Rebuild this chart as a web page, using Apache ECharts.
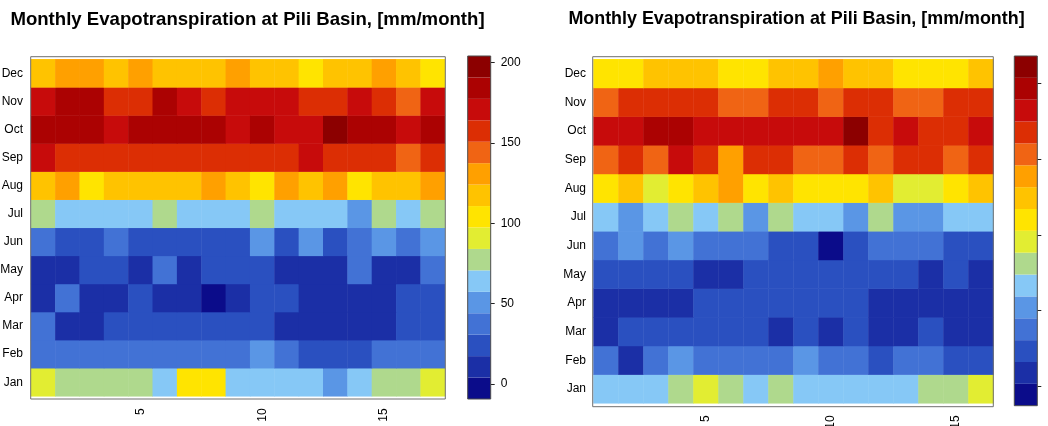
<!DOCTYPE html>
<html>
<head>
<meta charset="utf-8">
<script src="https://cdn.jsdelivr.net/npm/echarts@6/dist/echarts.min.js"></script>
<style>
  html, body { margin: 0; padding: 0; background: #ffffff; }
  #chart { width: 1048px; height: 426px; }
</style>
</head>
<body>
<div id="chart"></div>
<script>
// Month labels, bottom (Jan) to top (Dec)
const months = ['Jan', 'Feb', 'Mar', 'Apr', 'May', 'Jun', 'Jul', 'Aug', 'Sep', 'Oct', 'Nov', 'Dec'];

// Year indices along the x axis of each panel
const yearsA = ['1','2','3','4','5','6','7','8','9','10','11','12','13','14','15','16','17'];
const yearsB = ['1','2','3','4','5','6','7','8','9','10','11','12','13','14','15','16'];

// Monthly evapotranspiration [mm/month], panel A (rows Jan..Dec, columns = years)
const etA = [
  [91, 77, 77, 77, 77, 64, 104, 104, 64, 64, 64, 64, 51, 64, 77, 77, 91],
  [37, 37, 37, 37, 37, 37, 37, 37, 37, 51, 37, 24, 24, 24, 37, 37, 37],
  [37, 11, 11, 24, 24, 24, 24, 24, 24, 24, 11, 11, 11, 11, 11, 24, 24],
  [11, 37, 11, 11, 24, 11, 11, -3, 11, 24, 24, 11, 11, 11, 11, 24, 24],
  [11, 11, 24, 24, 11, 37, 11, 24, 24, 24, 11, 11, 11, 37, 11, 11, 37],
  [37, 24, 24, 37, 24, 24, 24, 24, 24, 51, 24, 51, 24, 37, 51, 37, 51],
  [77, 64, 64, 64, 64, 77, 64, 64, 64, 77, 64, 64, 64, 51, 77, 64, 77],
  [117, 131, 104, 117, 117, 117, 117, 131, 117, 104, 131, 117, 131, 104, 117, 117, 131],
  [171, 157, 157, 157, 157, 157, 157, 157, 157, 157, 157, 171, 157, 157, 157, 144, 157],
  [184, 184, 184, 171, 184, 184, 184, 184, 171, 184, 171, 171, 197, 184, 184, 171, 184],
  [171, 184, 184, 157, 157, 184, 171, 157, 171, 171, 171, 157, 157, 171, 157, 144, 171],
  [117, 131, 131, 117, 131, 117, 117, 117, 131, 117, 117, 104, 117, 117, 131, 117, 104]
];

// Monthly evapotranspiration [mm/month], panel B
const etB = [
  [67, 67, 67, 81, 95, 81, 67, 81, 67, 67, 67, 67, 67, 81, 81, 95],
  [38, 9, 38, 52, 38, 38, 38, 38, 52, 38, 38, 23, 38, 38, 23, 23],
  [9, 23, 23, 23, 23, 23, 23, 9, 23, 9, 23, 9, 9, 23, 9, 9],
  [9, 9, 9, 9, 23, 23, 23, 23, 23, 23, 23, 9, 9, 9, 9, 9],
  [23, 23, 23, 23, 9, 9, 23, 23, 23, 23, 23, 23, 23, 9, 23, 9],
  [38, 52, 38, 52, 38, 38, 38, 23, 23, -6, 23, 38, 38, 38, 23, 23],
  [67, 52, 67, 81, 67, 81, 52, 81, 67, 67, 52, 81, 52, 52, 67, 67],
  [110, 124, 95, 110, 124, 139, 110, 124, 110, 110, 110, 124, 95, 95, 110, 124],
  [153, 168, 153, 182, 168, 139, 168, 168, 153, 153, 168, 153, 168, 168, 153, 168],
  [182, 182, 196, 196, 182, 182, 182, 182, 182, 182, 211, 168, 182, 168, 168, 182],
  [153, 168, 168, 168, 168, 153, 153, 168, 168, 153, 168, 168, 153, 153, 168, 168],
  [110, 110, 124, 124, 124, 110, 110, 124, 124, 139, 124, 124, 110, 110, 110, 124]
];

// Colour-key range of each panel and the key's tick values
const scaleA = [-9.3, 204];
const scaleB = [-12.8, 218];
const keyTicks = [0, 50, 100, 150, 200];

// 16-step blue-yellow-red palette, low to high
const palette = [
  '#0b0c8a', '#1b2fa6', '#2a50c0', '#4272d5', '#5a96e5', '#86c8f6',
  '#afd98d', '#e2ed32', '#ffe400', '#ffc300', '#ffa000', '#f06414',
  '#dc2e04', '#c70b0b', '#ab0202', '#8c0000'
];

const FONT = '"Liberation Sans", Arial, Helvetica, sans-serif';
const TITLE = 'Monthly Evapotranspiration at Pili Basin, [mm/month]';

function bins(scale) {
  const w = (scale[1] - scale[0]) / palette.length;
  return palette.map((c, i) => ({ lo: scale[0] + i * w, hi: scale[0] + (i + 1) * w, color: c }));
}

function pieces(scale) {
  return bins(scale).map((b, i) => (i === palette.length - 1
    ? { gte: b.lo, lte: b.hi + 1e-6, color: b.color }
    : { gte: b.lo, lt: b.hi, color: b.color }));
}

function cells(values) {
  const out = [];
  values.forEach((row, r) => row.forEach((v, c) => out.push([c, r, v])));
  return out;
}

function keyData(scale) {
  return bins(scale).map(b => ({ value: [b.lo, b.hi], itemStyle: { color: b.color } }));
}

function renderKey(params, api) {
  const p0 = api.coord([0, api.value(0)]);
  const p1 = api.coord([1, api.value(1)]);
  return {
    type: 'rect',
    shape: { x: p0[0], y: p1[1], width: p1[0] - p0[0], height: p0[1] - p1[1] },
    style: { fill: api.visual('color') }
  };
}

const monthLabel = { fontFamily: FONT, fontSize: 12, color: '#000' };

function heatX(gridIndex, data, margin) {
  return {
    type: 'category', gridIndex, data,
    axisLine: { show: false }, axisTick: { show: false }, splitLine: { show: false },
    axisLabel: {
      interval: (idx) => (idx + 1) % 5 === 0,
      rotate: 90, margin, fontFamily: FONT, fontSize: 12, color: '#000'
    }
  };
}

function heatY(gridIndex, margin) {
  return {
    type: 'category', gridIndex, data: months,
    axisLine: { show: false }, axisTick: { show: false }, splitLine: { show: false },
    axisLabel: Object.assign({ margin }, monthLabel)
  };
}

function hiddenAxis(gridIndex) {
  return { type: 'value', gridIndex, min: 0, max: 1, show: false };
}

function keyY(gridIndex, scale, showLabels) {
  return {
    type: 'value', gridIndex, min: scale[0], max: scale[1], position: 'right',
    axisLine: { show: false, onZero: false },
    splitLine: { show: false },
    axisTick: { show: true, inside: false, length: 4, customValues: keyTicks, lineStyle: { color: '#222', width: 1 } },
    axisLabel: { show: showLabels, customValues: keyTicks, margin: 10, fontFamily: FONT, fontSize: 12, color: '#000' }
  };
}

function plotGrid(left, top, width, height) {
  return { left, top, width, height, show: false, containLabel: false, outerBoundsMode: 'none' };
}

function frameGrid(left, top, width, height, color) {
  return {
    left, top, width, height, show: true, borderColor: color, borderWidth: 1,
    backgroundColor: 'transparent', z: 10, containLabel: false, outerBoundsMode: 'none'
  };
}

const chart = echarts.init(document.getElementById('chart'), null, { renderer: 'canvas' });

chart.setOption({
  animation: false,
  backgroundColor: '#ffffff',
  graphic: [
    { type: 'text', x: 247.5, y: 19.5,
      style: { text: TITLE, font: 'bold 18.6px ' + FONT, textAlign: 'center', textVerticalAlign: 'middle', fill: '#000' } },
    { type: 'text', x: 796.5, y: 19.5,
      style: { text: TITLE, font: 'bold 17.9px ' + FONT, textAlign: 'center', textVerticalAlign: 'middle', fill: '#000' } }
  ],
  grid: [
    plotGrid(31, 59.3, 414, 337),
    frameGrid(30.7, 56.7, 414.6, 342.3, '#6f6f6f'),
    frameGrid(467.7, 56, 23, 343, '#4d4d4d'),
    plotGrid(593.5, 59.3, 400, 344),
    frameGrid(592.7, 56.7, 400.6, 350, '#6f6f6f'),
    frameGrid(1014.3, 56, 23, 349.7, '#4d4d4d')
  ],
  xAxis: [
    heatX(0, yearsA, 12),
    hiddenAxis(1),
    hiddenAxis(2),
    heatX(3, yearsB, 12),
    hiddenAxis(4),
    hiddenAxis(5)
  ],
  yAxis: [
    heatY(0, 8),
    hiddenAxis(1),
    keyY(2, scaleA, true),
    heatY(3, 7.5),
    hiddenAxis(4),
    keyY(5, scaleB, false)
  ],
  visualMap: [
    { type: 'piecewise', show: false, seriesIndex: 0, dimension: 2, pieces: pieces(scaleA), outOfRange: { color: '#ffffff' } },
    { type: 'piecewise', show: false, seriesIndex: 1, dimension: 2, pieces: pieces(scaleB), outOfRange: { color: '#ffffff' } }
  ],
  series: [
    { type: 'heatmap', xAxisIndex: 0, yAxisIndex: 0, data: cells(etA), silent: true,
      itemStyle: { borderWidth: 0 }, emphasis: { disabled: true }, progressive: 0 },
    { type: 'heatmap', xAxisIndex: 3, yAxisIndex: 3, data: cells(etB), silent: true,
      itemStyle: { borderWidth: 0 }, emphasis: { disabled: true }, progressive: 0 },
    { type: 'custom', xAxisIndex: 2, yAxisIndex: 2, data: keyData(scaleA), renderItem: renderKey, silent: true },
    { type: 'custom', xAxisIndex: 5, yAxisIndex: 5, data: keyData(scaleB), renderItem: renderKey, silent: true }
  ]
});
</script>
</body>
</html>
